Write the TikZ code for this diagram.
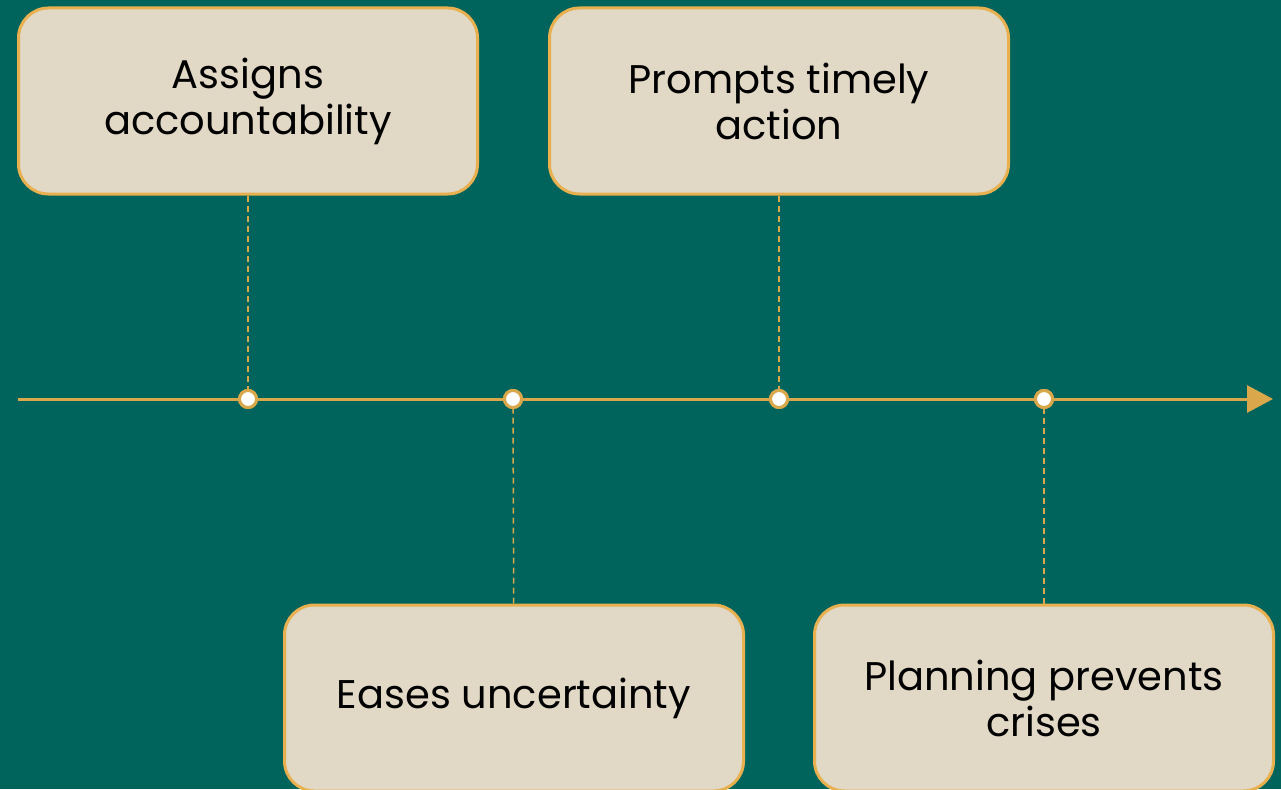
\documentclass[tikz,border=0pt]{standalone}
\usepackage{fontspec}
\setmainfont{Poppins}
\usetikzlibrary{arrows.meta,positioning}
\definecolor{teal bg}{HTML}{00645C}
\definecolor{gold line}{HTML}{DAA84A}
\definecolor{gold rim}{HTML}{E8B04F}
\definecolor{sand}{HTML}{E1D8C5}
\tikzset{
  card/.style={draw=gold rim,fill=sand,line width=3pt,rounded corners=30pt,
    minimum width=459pt,minimum height=186pt,align=center,text=black,
    font=\fontsize{40}{46}\selectfont},
  milestone/.style={circle,draw=gold line,fill=white,line width=3pt,
    minimum size=17pt,inner sep=0pt},
  link/.style={draw=gold line,line width=1.5pt,dash pattern=on 6pt off 4pt}
}
\begin{document}
\begin{tikzpicture}[x=1pt,y=-1pt]
    % Background and page frame
    \useasboundingbox (0,0) rectangle (1281,789);
    \fill[teal bg] (0,0) rectangle (1281,789);
    % Timeline with its arrow
    \coordinate (start) at (18,399);
    \coordinate (finish) at (1273,399);
    \draw[gold line,line width=3pt,-{Triangle[length=26pt,width=27pt]}] (start) -- (finish);
    % The cards
    \node[card] (assign) at (248,101) {Assigns\\accountability};
    \node[card] (prompt) at (779,101) {Prompts timely\\action};
    \node[card] (ease) at (514,698) {Eases uncertainty};
    \node[card] (plan) at (1044,698) {Planning prevents\\crises};
    % The milestones on the line
    \foreach \pos/\name in {{(248,399)/m1}, {(513,399)/m2}, {(779,399)/m3}, {(1044,399)/m4}}
        \node[milestone] (\name) at \pos {};
    % Dashed links from cards to milestones
    \foreach \source/\dest in {assign/m1, prompt/m3, ease/m2, plan/m4}
        \path[link] (\source) -- (\dest);
    % Redraw milestones above the links
    \foreach \name in {m1,m2,m3,m4}
        \node[milestone] at (\name) {};
\end{tikzpicture}
\end{document}
